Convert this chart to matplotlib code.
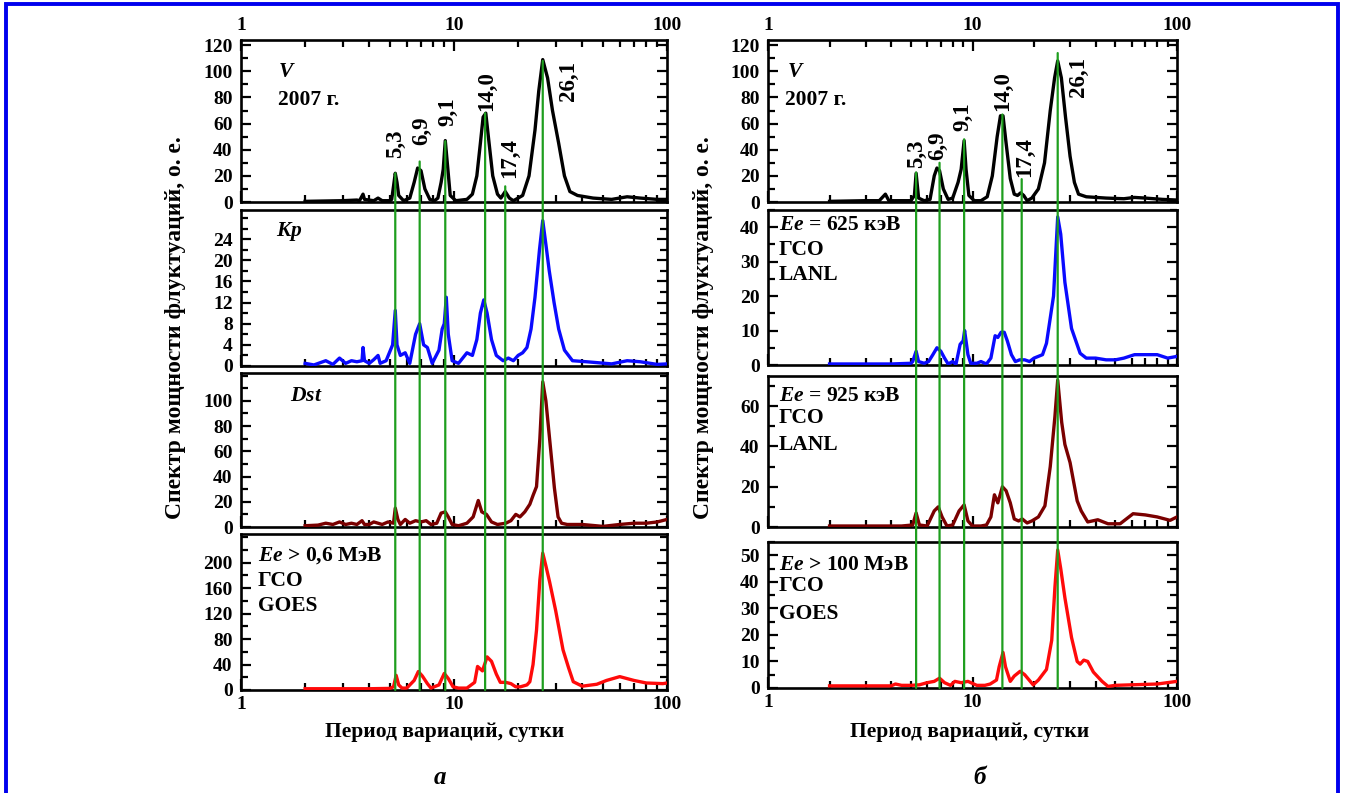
import matplotlib
matplotlib.use("Agg")
import matplotlib.pyplot as plt
from matplotlib.patches import ConnectionPatch, Rectangle
from matplotlib.ticker import FixedLocator, MultipleLocator, NullFormatter

plt.rcParams['font.family'] = ['Liberation Serif', 'DejaVu Serif']
plt.rcParams['font.weight'] = 'bold'
plt.rcParams['mathtext.fontset'] = 'custom'
plt.rcParams['mathtext.it'] = 'Liberation Serif:italic:bold'
plt.rcParams['mathtext.rm'] = 'Liberation Serif:bold'
plt.rcParams['mathtext.bf'] = 'Liberation Serif:bold'

# периоды пиков (сутки)
peaks = [5.3, 6.9, 9.1, 14.0, 17.4, 26.1]
peak_labels = ['5,3', '6,9', '9,1', '14,0', '17,4', '26,1']

# ---- столбец а ----
v_a_p = [2.0, 3.0, 3.5, 3.6, 3.74, 3.8, 4.2, 4.4, 4.6, 5.0, 5.1, 5.2, 5.3, 5.4, 5.5, 5.8,
         6.2, 6.5, 6.75, 7.0, 7.3, 7.7, 8.1, 8.4, 8.7, 8.9, 9.1, 9.3, 9.6, 10.2,
         11.5, 12.2, 12.8, 13.3, 13.7, 14.1, 14.5, 15.2, 16.0, 16.6, 17.4, 18.2, 19.0,
         19.5, 21.0, 22.5, 24.0, 25.0, 26.1, 27.5, 29.0, 31.0, 33.0, 35.0, 38.0, 45.0,
         55.0, 65.0, 75.0, 90.0, 100.0]
v_a_v = [0.5, 1, 1.5, 1, 6, 2, 1, 3, 1, 1, 2, 12, 22, 15, 5, 1,
         3, 15, 26, 24, 10, 2, 1, 3, 15, 25, 47, 30, 5, 1,
         2, 6, 20, 45, 65, 68, 50, 20, 6, 3, 8, 3, 1,
         2, 5, 20, 55, 85, 109, 95, 70, 45, 20, 8, 5, 3,
         2, 4, 3, 2, 2]

kp_p = [2.0, 2.2, 2.5, 2.7, 2.9, 3.1, 3.3, 3.5, 3.7, 3.74, 3.8, 4.0, 4.2, 4.4, 4.5, 4.8,
        5.15, 5.3, 5.4, 5.6, 5.9, 6.2, 6.6, 6.9, 7.2, 7.5, 7.9, 8.5, 8.8, 9.0, 9.2, 9.4,
        9.8, 10.5, 11.5, 12.2, 12.8, 13.3, 13.8, 14.3, 15.0, 15.8, 17.0, 18.0, 19.0, 20.0,
        21.0, 22.0, 23.0, 24.0, 25.2, 26.1, 27.0, 28.0, 29.5, 31.0, 33.0, 36.0, 42.0,
        55.0, 65.0, 75.0, 90.0, 100.0]
kp_v = [0.5, 0.2, 1, 0.3, 1.5, 0.5, 1, 0.8, 1, 3.5, 1, 0.5, 1.2, 2, 0.5, 1,
        4, 10.5, 4, 2, 2.5, 0.5, 6, 8, 4, 3.5, 0.5, 3, 7, 8, 13, 6,
        1, 0.5, 2.5, 2, 5, 10, 12.5, 10, 5, 2, 1, 1.5, 1, 2,
        2.5, 3.5, 7, 13, 22, 27.5, 23, 18, 12, 7, 3, 1, 0.8,
        0.4, 1, 0.8, 0.3, 0.4]

dst_p = [2.0, 2.3, 2.5, 2.7, 2.9, 3.1, 3.3, 3.5, 3.7, 3.8, 4.0, 4.2, 4.4, 4.6, 4.9, 5.2,
         5.3, 5.45, 5.6, 5.9, 6.2, 6.6, 7.0, 7.4, 7.8, 8.3, 8.7, 9.1, 9.4, 9.8, 10.5,
         11.5, 12.3, 13.0, 13.5, 14.2, 15.0, 16.0, 17.5, 18.5, 19.5, 20.4, 21.5, 22.7,
         23.5, 24.4, 25.3, 26.1, 27.0, 28.1, 29.6, 30.8, 32.0, 34.0, 40.0, 50.0, 60.0,
         70.0, 80.0, 90.0, 100.0]
dst_v = [1, 1.5, 3, 2, 4, 2, 3, 2, 5, 2, 2, 4, 3, 2, 4, 3,
         15, 6, 2, 6, 3, 5, 4, 5, 2, 3, 11, 12, 8, 2, 1,
         3, 8, 21, 12, 10, 4, 2, 3, 5, 10, 8, 12, 18,
         25, 32, 70, 115, 100, 70, 31, 8, 3, 2, 2, 0.5, 2,
         3, 3, 4, 6]

goes_p = [2.0, 3.0, 4.0, 5.0, 5.2, 5.35, 5.5, 5.7, 6.0, 6.5, 6.8, 7.1, 7.5, 7.8, 8.5, 9.0,
          9.4, 9.9, 10.5, 11.5, 12.5, 12.9, 13.6, 14.3, 15.0, 15.8, 16.5, 17.5, 18.5, 19.5,
          20.5, 22.0, 22.7, 23.5, 24.4, 25.3, 26.1, 27.0, 28.1, 30.0, 32.5, 34.5, 36.3,
          40.0, 46.8, 52.0, 60.0, 70.0, 80.0, 95.6, 100.0]
goes_v = [2, 2, 2, 2.5, 5, 23, 8, 3, 3, 15, 29, 22, 10, 3, 8, 26,
          18, 5, 3, 3, 12, 37, 30, 52, 45, 25, 12, 12, 10, 5,
          5, 8, 13, 40, 94, 173, 215, 195, 170, 125, 63, 35, 13,
          6, 9, 15, 21, 15, 11, 10, 11]

# ---- столбец б ----
v_b_p = [2.0, 3.0, 3.5, 3.75, 3.9, 4.2, 5.0, 5.2, 5.3, 5.45, 5.8, 6.2, 6.5, 6.7, 6.9, 7.2,
         7.6, 8.0, 8.5, 8.8, 9.1, 9.3, 9.6, 10.2, 11.0, 11.8, 12.5, 13.2, 13.7, 14.1,
         14.6, 15.3, 16.0, 16.6, 17.2, 17.8, 18.5, 19.5, 21.0, 22.5, 24.0, 25.2, 26.1,
         27.2, 28.5, 30.0, 31.5, 33.0, 36.0, 45.0, 55.0, 62.0, 70.0, 85.0, 100.0]
v_b_v = [0.5, 1, 1, 6, 1, 1, 1, 5, 22, 3, 1, 2, 20, 26, 24, 10,
         2, 3, 15, 25, 47, 25, 5, 1, 1, 4, 20, 50, 66, 66,
         45, 18, 6, 5, 7, 5, 1, 3, 10, 30, 70, 95, 108,
         95, 65, 35, 15, 6, 4, 3, 2.5, 3.5, 3, 2, 1.5]

e625_p = [2.0, 3.0, 4.0, 5.0, 5.1, 5.3, 5.45, 5.8, 6.1, 6.4, 6.7, 7.0, 7.3, 7.6, 8.0, 8.3,
          8.7, 9.0, 9.15, 9.5, 9.8, 10.5, 11.0, 11.7, 12.3, 12.9, 13.3, 13.8, 14.3, 14.8,
          15.5, 16.2, 17.0, 18.0, 19.0, 20.0, 22.0, 23.0, 24.9, 26.1, 27.0, 28.3, 30.5,
          33.6, 36.0, 40.0, 45.0, 50.0, 55.0, 62.0, 70.0, 80.0, 90.0, 100.0]
e625_v = [0.3, 0.3, 0.3, 0.5, 1, 4, 1, 0.5, 1, 3, 5, 4, 2, 0.3, 1, 0.2,
          6, 7, 10, 3, 0.5, 0.5, 1, 0.3, 2, 8.5, 8, 9.5, 9.5, 7,
          3, 1, 1.5, 1.5, 1, 2, 3, 6.3, 20, 43, 38, 24, 10.6,
          3.4, 2, 2, 1.5, 1.5, 2, 3, 3, 3, 2, 2.5]

e925_p = [2.0, 3.0, 4.5, 5.1, 5.3, 5.5, 6.0, 6.5, 6.8, 7.1, 7.5, 8.0, 8.6, 9.1, 9.5, 10.0,
          11.0, 11.7, 12.3, 12.8, 13.3, 14.0, 14.6, 15.3, 16.0, 16.8, 17.5, 18.5, 19.5,
          21.0, 22.6, 24.0, 25.3, 26.1, 27.3, 28.3, 30.0, 32.5, 34.0, 36.6, 41.0, 46.0,
          52.7, 61.0, 70.0, 80.0, 92.5, 100.0]
e925_v = [0.5, 0.5, 0.5, 1, 7, 1, 0.5, 8, 10, 5, 0.5, 1, 8, 11, 3, 0.5,
          0.5, 1, 5, 16, 12, 20, 18, 12, 4, 3, 4, 2, 3,
          5, 10.5, 30, 55, 73, 52, 41, 32, 13, 8, 2.5, 3.6, 1.6,
          1.6, 6.6, 6, 5, 3.3, 5]

e100_p = [2.0, 3.0, 4.0, 4.2, 4.5, 5.0, 5.5, 6.0, 6.5, 6.9, 7.3, 7.8, 8.2, 8.8, 9.5, 10.5,
          11.5, 12.2, 13.1, 13.5, 14.1, 14.5, 15.3, 16.0, 17.1, 18.0, 19.8, 21.0, 23.0,
          24.4, 25.3, 26.1, 27.0, 28.3, 30.5, 32.5, 33.6, 35.0, 36.6, 39.0, 43.0, 46.0,
          50.0, 60.0, 80.0, 100.0]
e100_v = [0.8, 0.8, 0.8, 1.5, 1, 1, 1.2, 2, 2.5, 3.7, 2, 1, 2.5, 2, 2.5, 1,
          1, 1.5, 3, 8, 13.4, 8, 2.5, 4.5, 6.3, 5, 1.2, 3, 7,
          18, 38, 52, 45, 34, 19, 10, 9, 10.5, 10, 6, 2.5, 0.6,
          1, 1.2, 1.5, 2.5]

# высоты зелёных линий в верхней панели
green_top_a = [22, 31, 46.5, 68, 12, 108]
green_top_b = [22.6, 30, 48, 67, 17.5, 114]

# подписи пиков: (x, y нижнего края)
lab_a = [(5.33, 34), (7.05, 44), (9.37, 58), (14.3, 70), (18.3, 18), (34.4, 77)]
lab_b = [(5.33, 26), (6.75, 32), (8.95, 54), (14.1, 70), (18.0, 19), (32.9, 80)]

W, H = 1345, 793
fig = plt.figure(figsize=(W / 100, H / 100), dpi=100)


def ax_at(x0, x1, y0, y1):
    return fig.add_axes([x0 / W, 1 - y1 / H, (x1 - x0) / W, (y1 - y0) / H])


green = '#1e9e1e'
rows_a = [(40, 202), (210, 366), (373, 527), (534, 690)]
rows_b = [(40, 202), (210, 365), (376, 527), (542, 688)]

cols = [
    dict(x=(241, 667), rows=rows_a,
         series=[(v_a_p, v_a_v, 'black', (0, 124), range(0, 121, 20), 10),
                 (kp_p, kp_v, '#0a0aff', (0, 29.5), range(0, 25, 4), 2),
                 (dst_p, dst_v, '#7a0000', (0, 122), range(0, 101, 20), 10),
                 (goes_p, goes_v, '#ff0a0a', (0, 245), range(0, 201, 40), 20)],
         texts=[[(0.087, 0.80, r'$V$'), (0.087, 0.63, '2007 г.')],
                [(0.082, 0.86, r'$Kp$')],
                [(0.115, 0.85, r'$Dst$')],
                [(0.04, 0.86, r'$Ee$ > 0,6 МэВ'), (0.04, 0.70, 'ГСО'), (0.04, 0.54, 'GOES')]],
         gtop=green_top_a, labs=lab_a, ylab_x=176, xlab_x=445, letter=(440, 'а')),
    dict(x=(768, 1177), rows=rows_b,
         series=[(v_b_p, v_b_v, 'black', (0, 124), range(0, 121, 20), 10),
                 (e625_p, e625_v, '#0a0aff', (0, 45), range(0, 41, 10), 5),
                 (e925_p, e925_v, '#7a0000', (0, 75), range(0, 61, 20), 10),
                 (e100_p, e100_v, '#ff0a0a', (0, 55), range(0, 51, 10), 5)],
         texts=[[(0.046, 0.80, r'$V$'), (0.042, 0.63, '2007 г.')],
                [(0.027, 0.90, r'$Ee$ = 625 кэВ'), (0.027, 0.74, 'ГСО'), (0.027, 0.58, 'LANL')],
                [(0.027, 0.87, r'$Ee$ = 925 кэВ'), (0.027, 0.72, 'ГСО'), (0.027, 0.54, 'LANL')],
                [(0.027, 0.84, r'$Ee$ > 100 МэВ'), (0.027, 0.70, 'ГСО'), (0.027, 0.51, 'GOES')]],
         gtop=green_top_b, labs=lab_b, ylab_x=704, xlab_x=970, letter=(980, 'б')),
]

for col in cols:
    axes = []
    for i, ((y0, y1), (p, v, c, yl, yt, ymin)) in enumerate(zip(col['rows'], col['series'])):
        ax = ax_at(col['x'][0], col['x'][1], y0, y1)
        ax.plot(p, v, color=c, lw=2.4, zorder=3)
        ax.set_xscale('log')
        ax.set_xlim(1, 100)
        ax.set_ylim(*yl)
        ax.yaxis.set_major_locator(FixedLocator(list(yt)))
        ax.yaxis.set_minor_locator(MultipleLocator(ymin))
        ax.tick_params(which='both', direction='in', top=(i == 0), bottom=True,
                       left=True, right=True, labelsize=14, width=1.6, pad=4)
        ax.tick_params(which='major', length=8)
        ax.tick_params(which='minor', length=5)
        ax.tick_params(axis='y', which='major', length=7, pad=6)
        ax.xaxis.set_major_formatter(plt.FuncFormatter(lambda x, _: '%g' % x))
        ax.xaxis.set_minor_formatter(NullFormatter())
        if i == 0:
            ax.tick_params(axis='x', labeltop=True, labelbottom=False)
        elif i < 3:
            ax.tick_params(axis='x', labelbottom=False)
        for s in ax.spines.values():
            s.set_linewidth(1.9)
        for tx, ty, t in col['texts'][i]:
            ax.text(tx, ty, t, transform=ax.transAxes, fontsize=15.5, fontweight='bold',
                    va='center', ha='left')
        axes.append(ax)

    # подписи пиков
    for (lx, ly), t in zip(col['labs'], peak_labels):
        axes[0].text(lx, ly, t, rotation=90, ha='center', va='bottom', fontsize=16.5,
                     fontweight='bold', zorder=5)

    # зелёные линии через все панели
    for pk, gt in zip(peaks, col['gtop']):
        cp = ConnectionPatch(xyA=(pk, gt), coordsA=axes[0].transData,
                             xyB=(pk, 0), coordsB=axes[-1].transData,
                             color=green, lw=1.6, zorder=10)
        fig.add_artist(cp)

    fig.text(col['ylab_x'] / W, 1 - 328 / H, 'Спектр мощности флуктуаций, о. е.',
             rotation=90, ha='center', va='center', fontsize=17, fontweight='bold')
    fig.text(col['xlab_x'] / W, 1 - 732 / H, 'Период вариаций, сутки',
             ha='center', va='center', fontsize=15.5, fontweight='bold')
    lx, lt = col['letter']
    fig.text(lx / W, 1 - 778 / H, lt, ha='center', va='center', fontsize=18,
             fontweight='bold', style='italic')

# синяя рамка
fig.add_artist(Rectangle((6 / W, -0.05), 1332 / W, 1 - 4 / H + 0.05, transform=fig.transFigure,
                         fill=False, edgecolor='#0000ee', lw=2.8, clip_on=False))

fig.savefig('out.png', dpi=100)
